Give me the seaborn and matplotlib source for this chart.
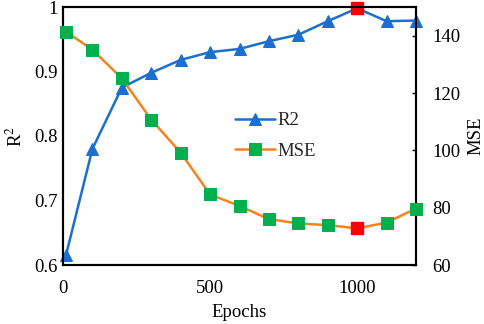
import matplotlib
matplotlib.use("Agg")
import matplotlib.pyplot as plt
import seaborn as sns
import numpy as np
import pandas as pd

epochs = [10, 100, 200, 300, 400, 500, 600, 700, 800, 900, 1000, 1100, 1200]
r2 = [0.615, 0.780, 0.875, 0.898, 0.918, 0.930, 0.935, 0.947, 0.957, 0.978, 0.998, 0.978, 0.979]
mse = [141.4, 135.1, 125.1, 110.7, 99.2, 84.6, 80.6, 76.0, 74.5, 73.9, 72.8, 74.8, 79.7]
x_ticks = [0, 500, 1000]
r2_ticks = [0.6, 0.7, 0.8, 0.9, 1.0]
r2_tick_labels = ["0.6", "0.7", "0.8", "0.9", "1"]
mse_ticks = [60, 80, 100, 120, 140]

sns.set_theme(style="white")
plt.rcParams['font.family'] = ['Liberation Serif', 'DejaVu Serif']
plt.rcParams['mathtext.fontset'] = 'stix'

df = pd.DataFrame({"Epochs": epochs, "R2": r2, "MSE": mse})

BLUE = "#1a6fd0"
ORANGE = "#f7821e"
GREEN = "#00b04f"
RED = "#ff0000"
FS = 13.5

fig = plt.figure(figsize=(4.84, 3.24), dpi=100)
ax = fig.add_axes([63/484, 1 - 265/324, (416-63)/484, (265-7)/324])
ax2 = ax.twinx()

sns.lineplot(data=df, x="Epochs", y="R2", ax=ax, color=BLUE, lw=1.8,
             marker="^", markersize=8, markeredgecolor=BLUE, markerfacecolor=BLUE,
             label="R2", legend=False, zorder=3)
sns.lineplot(data=df, x="Epochs", y="MSE", ax=ax2, color=ORANGE, lw=1.8,
             marker="s", markersize=8, markeredgecolor=GREEN, markerfacecolor=GREEN,
             label="MSE", legend=False, zorder=3)

ibest = int(np.argmax(r2))
jbest = int(np.argmin(mse))
ax.plot([epochs[ibest]], [r2[ibest]], marker="s", ms=8, color=RED, ls="none", zorder=5, clip_on=False)
ax2.plot([epochs[jbest]], [mse[jbest]], marker="s", ms=8, color=RED, ls="none", zorder=5, clip_on=False)

ax.set_xlim(0, 1200)
ax.set_ylim(0.6, 1.0)
ax2.set_ylim(60, 150)
ax.set_xticks(x_ticks)
ax.set_yticks(r2_ticks)
ax.set_yticklabels(r2_tick_labels)
ax2.set_yticks(mse_ticks)

ax.tick_params(axis="x", length=0, labelsize=FS, colors="black", pad=11)
ax.tick_params(axis="y", length=0, labelsize=FS, colors="black", pad=4)
ax2.tick_params(axis="y", direction="in", length=3, width=1, labelsize=FS,
                colors="black", pad=12)
for a in (ax, ax2):
    for s in a.spines.values():
        s.set_color("black")
        s.set_linewidth(1.5)
    a.grid(False)
for l in ax.get_lines():
    l.set_clip_on(False)
for l in ax2.get_lines():
    l.set_clip_on(False)

ax.set_xlabel("Epochs", fontsize=FS, color="black", labelpad=5)
ax.set_ylabel("R$^2$", fontsize=FS, color="black", labelpad=6)
ax2.set_ylabel("MSE", fontsize=FS, color="black", labelpad=5)

h1, l1 = ax.get_legend_handles_labels()
h2, l2 = ax2.get_legend_handles_labels()
leg = ax.legend(h1[:1] + h2[:1], ["R2", "MSE"], loc="center left",
                bbox_to_anchor=(0.44, 0.5), frameon=False, fontsize=FS,
                handlelength=2.1, handletextpad=0.15, labelspacing=0.7)
leg.set_zorder(10)

fig.savefig("out.png", dpi=100)
